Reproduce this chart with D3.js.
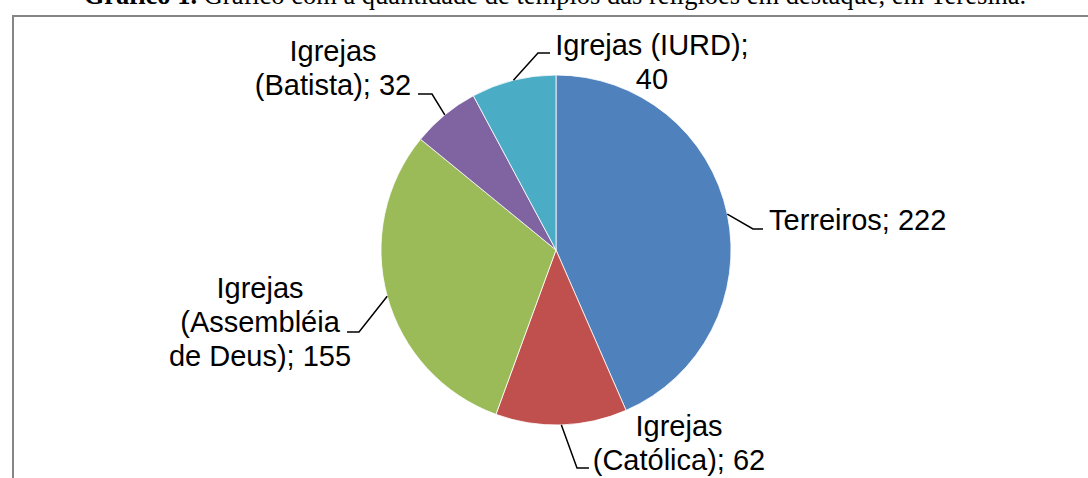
<!doctype html>
<html lang="pt">
  <head>
    <meta charset="utf-8">
    <title>Gráfico 1</title>
    <style type="text/css">
      body { margin: 0; background-color: #ffffff; }
      svg { display: block; }
    </style>
  </head>
  <body>
    <script src="https://d3js.org/d3.v7.min.js"></script>
    <script>
  // data
  var categories = ["Terreiros", "Igrejas (Católica)", "Igrejas (Assembléia de Deus)", "Igrejas (Batista)", "Igrejas (IURD)"];
  var values = [222, 62, 155, 32, 40];
  var colors = ["#4f81bd", "#c0504d", "#9bbb59", "#8064a2", "#4bacc6"];
  // label text lines as shown on the chart
  var labelLines = [
    ["Terreiros; 222"],
    ["Igrejas", "(Católica); 62"],
    ["Igrejas", "(Assembléia", "de Deus); 155"],
    ["Igrejas", "(Batista); 32"],
    ["Igrejas (IURD);", "40"]
  ];

  var w = 1088, h = 478;
  var cx = 556, cy = 250, r = 175;

  // label layout: elbow point, line end, text anchor x, first baseline, anchor
  var labelLayout = [
    {elbow: [753, 229], end: [763, 229], tx: 769, ty: 230, anchor: "start"},
    {elbow: [577, 468], end: [589, 468], tx: 679, ty: 436, anchor: "middle"},
    {elbow: [359, 332], end: [347, 332], tx: 260, ty: 298, anchor: "middle"},
    {elbow: [432, 94], end: [418, 94], tx: 333, ty: 61, anchor: "middle"},
    {elbow: [538, 53], end: [550, 53], tx: 652, ty: 55, anchor: "middle"}
  ];
  var lineH = 34;

  var svg = d3.select("body")
    .append("svg")
    .attr("width", w)
    .attr("height", h);

  // title (cut off at top, like the source)
  var title = svg.append("text")
    .attr("x", 555)
    .attr("y", 4)
    .attr("text-anchor", "middle")
    .style("font-family", "'Liberation Serif', 'Times New Roman', serif")
    .style("font-size", "26.5px")
    .style("fill", "#000");
  title.append("tspan").style("font-weight", "bold").text("Gráfico 1.");
  title.append("tspan").text(" Gráfico com a quantidade de templos das religiões em destaque, em Teresina.");

  // frame
  svg.append("path")
    .attr("d", "M13," + h + "V16H" + w)
    .style("fill", "none")
    .style("stroke", "#868686")
    .style("stroke-width", 2);

  var pie = d3.pie().sort(null).value(function(d) { return d; });
  var arcs = pie(values);
  var arc = d3.arc().innerRadius(0).outerRadius(r);

  var g = svg.append("g").attr("transform", "translate(" + cx + "," + cy + ")");

  g.selectAll("path")
    .data(arcs)
    .enter()
    .append("path")
    .attr("d", arc)
    .style("fill", function(d, i) { return colors[i]; })
    .style("stroke", "#ffffff")
    .style("stroke-width", 0.8);

  // leader lines
  svg.selectAll("path.leader")
    .data(arcs)
    .enter()
    .append("path")
    .attr("class", "leader")
    .attr("d", function(d, i) {
      var a = (d.startAngle + d.endAngle) / 2;
      var x0 = cx + r * Math.sin(a), y0 = cy - r * Math.cos(a);
      var L = labelLayout[i];
      return "M" + x0 + "," + y0 + "L" + L.elbow[0] + "," + L.elbow[1] + "L" + L.end[0] + "," + L.end[1];
    })
    .style("fill", "none")
    .style("stroke", "#000")
    .style("stroke-width", 1.5);

  // labels
  var labels = svg.selectAll("text.lbl")
    .data(arcs)
    .enter()
    .append("text")
    .attr("class", "lbl")
    .attr("text-anchor", function(d, i) { return labelLayout[i].anchor; })
    .style("font-family", "'Liberation Sans', Arial, sans-serif")
    .style("font-size", "29px")
    .style("fill", "#000");

  labels.each(function(d, i) {
    var L = labelLayout[i];
    d3.select(this).selectAll("tspan")
      .data(labelLines[i])
      .enter()
      .append("tspan")
      .attr("x", L.tx)
      .attr("y", function(t, j) { return L.ty + j * lineH; })
      .text(function(t) { return t; });
  });
    </script>
  </body>
</html>
